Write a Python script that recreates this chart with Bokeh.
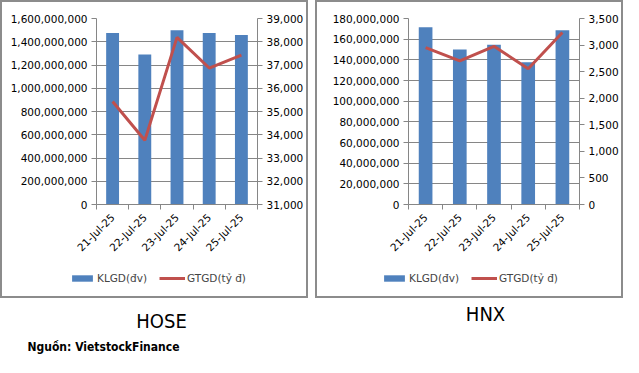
import numpy as np
from bokeh.plotting import figure
from bokeh.models import (Range1d, LinearAxis, FixedTicker, NumeralTickFormatter,
                          Legend, LegendItem, Label, ColumnDataSource, Spacer)
from bokeh.layouts import column, row
from bokeh.embed import file_html
from bokeh.resources import INLINE

dates = ["21-Jul-25", "22-Jul-25", "23-Jul-25", "24-Jul-25", "25-Jul-25"]
hose_vol = [1475e6, 1291e6, 1500e6, 1475e6, 1458e6]
hose_val = [35430, 33760, 38190, 36870, 37425]
hnx_vol = [171.5e6, 149.9e6, 154.6e6, 137.7e6, 168.7e6]
hnx_val = [2951, 2701, 2976, 2555, 3238]
vol_label = "KLGD(đv)"
val_label = "GTGD(tỷ đ)"
titles = ["HOSE", "HNX"]
source_text = "Nguồn: VietstockFinance"

FONT = "DejaVu Sans"
GRAY = "#868686"
BLUE = "#4F81BD"
RED = "#C0504D"
INNER_W = 304


def chart(vol, val, ymax, ystep, rmin, rmax, rstep, mleft, mright):
    n = len(dates)
    centers = [i + 0.5 for i in range(n)]
    bounds = [float(i) for i in range(n + 1)]
    p = figure(width=INNER_W, height=258, output_backend="svg", toolbar_location=None,
               x_range=Range1d(0, n), y_range=Range1d(0, ymax),
               min_border_left=mleft, min_border_right=mright,
               min_border_top=16, min_border_bottom=54)
    p.extra_y_ranges = {"r": Range1d(rmin, rmax)}
    src = ColumnDataSource(dict(x=centers, vol=vol, val=val))
    p.vbar(x="x", top="vol", width=0.4, source=src, fill_color=BLUE, line_color=None)
    p.line(x="x", y="val", source=src, y_range_name="r", line_color=RED, line_width=3)

    p.outline_line_color = None
    p.xgrid.grid_line_color = None
    p.ygrid.grid_line_color = GRAY
    p.ygrid.grid_line_width = 1

    yl = p.yaxis[0]
    yl.ticker = FixedTicker(ticks=list(np.arange(0, ymax + 1, ystep)))
    yl.formatter = NumeralTickFormatter(format="0,0")

    rax = LinearAxis(y_range_name="r", ticker=FixedTicker(ticks=list(np.arange(rmin, rmax + 1, rstep))),
                     formatter=NumeralTickFormatter(format="0,0"))
    p.add_layout(rax, "right")

    xa = p.xaxis[0]
    xa.ticker = FixedTicker(ticks=centers, minor_ticks=bounds)
    xa.major_label_overrides = {c: d for c, d in zip(centers, dates)}
    xa.major_label_orientation = np.pi / 4
    xa.major_tick_line_color = None
    xa.minor_tick_out = 5
    xa.minor_tick_in = 0

    for ax in [yl, rax, xa]:
        ax.axis_line_color = GRAY
        ax.major_label_text_font = FONT
        ax.major_label_text_font_size = "10.5px"
        ax.major_label_text_color = "#000000"
        ax.minor_tick_line_color = GRAY if ax is xa else None
    for ax in [yl, rax]:
        ax.major_tick_line_color = GRAY
        ax.major_tick_out = 5
        ax.major_tick_in = 0
        ax.major_label_standoff = 4
    return p, src


def legend_fig(src, leg_x):
    # legend-only strip: same series, drawn off-range so only the key is visible
    q = figure(width=INNER_W, height=36, output_backend="svg", toolbar_location=None,
               x_range=Range1d(-20, -10), y_range=Range1d(-20, -10),
               min_border=0, min_border_left=0, min_border_right=0,
               min_border_top=0, min_border_bottom=0)
    q.axis.visible = False
    q.grid.visible = False
    q.outline_line_color = None
    b = q.vbar(x="x", top="vol", width=0.4, source=src, fill_color=BLUE, line_color=None)
    l = q.line(x="x", y="val", source=src, line_color=RED, line_width=3)
    leg = Legend(items=[LegendItem(label=vol_label, renderers=[b]),
                        LegendItem(label=val_label, renderers=[l])],
                 location=(leg_x, 12), orientation="horizontal",
                 border_line_color=None, background_fill_alpha=0,
                 padding=2, spacing=12, label_standoff=2, glyph_width=26, glyph_height=8,
                 label_height=12, label_text_font=FONT, label_text_font_size="10.5px",
                 margin=0)
    q.add_layout(leg)
    return row(q)


BORDER = {"border": "2px solid #8c8c8c"}
p1, s1 = chart(hose_vol, hose_val, 1.6e9, 2e8, 31000, 39000, 1000, 94, 47)
p2, s2 = chart(hnx_vol, hnx_val, 180e6, 20e6, 0, 3500, 500, 91, 38)
c1 = column(p1, legend_fig(s1, 67), styles=BORDER)
c2 = column(p2, legend_fig(s2, 64), styles=BORDER)

pb = figure(width=623, height=59, output_backend="svg", toolbar_location=None,
            x_range=Range1d(0, 623), y_range=Range1d(0, 59),
            min_border=0, min_border_left=0, min_border_right=0, min_border_top=0, min_border_bottom=0)
pb.axis.visible = False
pb.grid.visible = False
pb.outline_line_color = None
TF = "'DejaVu Sans Condensed', sans-serif"
pb.add_layout(Label(x=161, y=37, x_units="screen", y_units="screen", text=titles[0],
                    text_font=TF, text_font_size="20px", text_align="center",
                    text_baseline="middle", text_color="#000000"))
pb.add_layout(Label(x=485, y=44, x_units="screen", y_units="screen", text=titles[1],
                    text_font=TF, text_font_size="20px", text_align="center",
                    text_baseline="middle", text_color="#000000"))
pb.add_layout(Label(x=27, y=11, x_units="screen", y_units="screen", text=source_text,
                    text_font=TF, text_font_size="12px", text_font_style="bold",
                    text_align="left", text_baseline="middle", text_color="#000000"))

layout = column(row(c1, Spacer(width=7), c2), row(pb))
open("out.html", "w").write(file_html(layout, INLINE))
